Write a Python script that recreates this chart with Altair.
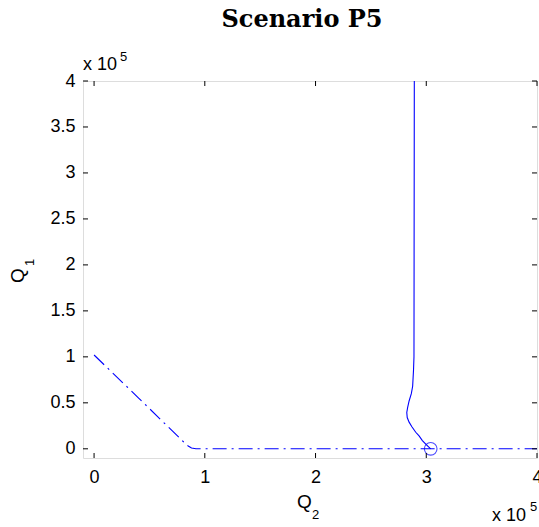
import altair as alt
import pandas as pd

# ---- data (units of 1e5) ----
path_q2 = [2.892, 2.891, 2.890, 2.889, 2.885, 2.877, 2.865, 2.845, 2.832, 2.824, 2.828, 2.845, 2.870, 2.905, 2.935, 2.965, 3.000, 3.040]
path_q1 = [4.000, 3.000, 2.000, 1.000, 0.860, 0.680, 0.600, 0.520, 0.450, 0.395, 0.340, 0.290, 0.240, 0.180, 0.140, 0.090, 0.045, 0.000]
switch_q2 = [0.00, 0.40, 0.80, 0.85, 0.88, 0.92, 4.00]
switch_q1 = [1.02, 0.555, 0.085, 0.030, 0.008, 0.000, 0.000]
eq_q2 = [3.04]
eq_q1 = [0.0]
x_ticks = [0, 1, 2, 3, 4]
y_ticks = [0, 0.5, 1, 1.5, 2, 2.5, 3, 3.5, 4]
title_text = "Scenario P5"

W, H = 454, 377
L, T = 83, 81
BLUE = "#0000ff"
FONT = "Liberation Sans"
LBL = 18

xs = alt.Scale(domain=[-0.1, 4], nice=False, zero=False)
ys = alt.Scale(domain=[-0.1, 4], nice=False, zero=False)

path_df = pd.DataFrame({"q2": path_q2, "q1": path_q1, "i": range(len(path_q2))})
switch_df = pd.DataFrame({"q2": switch_q2, "q1": switch_q1, "i": range(len(switch_q2))})
eq_df = pd.DataFrame({"q2": eq_q2, "q1": eq_q1})
xt_df = pd.DataFrame({"v": x_ticks})
yt_df = pd.DataFrame({"v": y_ticks})

xaxis = alt.Axis(values=x_ticks, format="~g", ticks=False, domain=False, grid=False,
                 labelFont=FONT, labelFontSize=LBL, labelColor="black", labelPadding=10,
                 labelOverlap=False, labelBound=False, labelFlush=False, title=None)
yaxis = alt.Axis(values=y_ticks, format="~g", ticks=False, domain=False, grid=False,
                 labelFont=FONT, labelFontSize=LBL, labelColor="black", labelPadding=8,
                 labelOverlap=False, labelBound=False, labelFlush=False, title=None)

path = alt.Chart(path_df).mark_line(color=BLUE, strokeWidth=1.1).encode(
    x=alt.X("q2:Q", scale=xs, axis=xaxis),
    y=alt.Y("q1:Q", scale=ys, axis=yaxis),
    order="i:Q",
)
switch = alt.Chart(switch_df).mark_line(color=BLUE, strokeWidth=1.1, strokeDash=[14, 5, 2, 5]).encode(
    x=alt.X("q2:Q", scale=xs),
    y=alt.Y("q1:Q", scale=ys),
    order="i:Q",
)
eq = alt.Chart(eq_df).mark_point(shape="circle", size=160, color=BLUE, filled=False, strokeWidth=1.1).encode(
    x=alt.X("q2:Q", scale=xs),
    y=alt.Y("q1:Q", scale=ys),
)

tick_len = 5
xt_bot = alt.Chart(xt_df).mark_rule(color="black", strokeWidth=1).encode(
    x=alt.X("v:Q", scale=xs), y=alt.value(H), y2=alt.value(H - tick_len))
xt_top = alt.Chart(xt_df).mark_rule(color="black", strokeWidth=1).encode(
    x=alt.X("v:Q", scale=xs), y=alt.value(0), y2=alt.value(tick_len))
yt_left = alt.Chart(yt_df).mark_rule(color="black", strokeWidth=1).encode(
    y=alt.Y("v:Q", scale=ys), x=alt.value(0), x2=alt.value(tick_len))
yt_right = alt.Chart(yt_df).mark_rule(color="black", strokeWidth=1).encode(
    y=alt.Y("v:Q", scale=ys), x=alt.value(W - tick_len), x2=alt.value(W))

def txt(s, px, py, size, align="left", angle=0, font=FONT, weight="normal", baseline="alphabetic"):
    kw = dict(align=align, baseline=baseline, fontSize=size, font=font, fontWeight=weight, color="black")
    if angle:
        kw["angle"] = angle
    return alt.Chart(pd.DataFrame({"t": [s]})).mark_text(**kw).encode(
        x=alt.value(px - L), y=alt.value(py - T), text="t:N")

texts = [
    txt(title_text, 302, 27, 24, align="center", font="DejaVu Serif", weight="bold"),
    txt("x 10", 83, 70, LBL),
    txt("5", 120, 61, 13),
    txt("x 10", 492, 521, LBL),
    txt("5", 530, 511, 13),
    txt("Q", 297, 508, 19),
    txt("2", 312, 519, 13),
    txt("Q", 24, 283, 19, angle=270),
    txt("1", 34, 266, 13, angle=270),
]

chart = alt.layer(path, switch, eq, xt_bot, xt_top, yt_left, yt_right, *texts).properties(
    width=W, height=H,
    autosize=alt.AutoSizeParams(type="none"),
    padding={"left": L, "top": T, "right": 539 - L - W, "bottom": 527 - T - H},
).configure_view(stroke="black", strokeWidth=1).configure(background="white")

chart.save("out.html", embed_options={"renderer": "svg", "actions": False})
